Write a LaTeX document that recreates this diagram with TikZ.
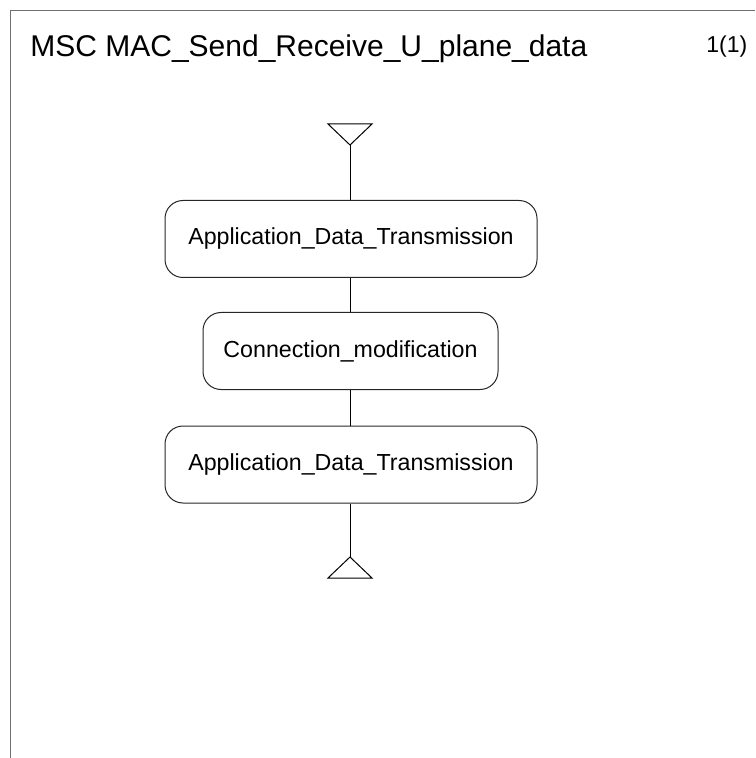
\documentclass[tikz,border=0pt]{standalone}
\usepackage{fontspec}
\setmainfont{Liberation Sans}
\definecolor{framegray}{HTML}{707070}

\tikzset{
  procref/.style={draw=black!85, line width=0.5pt, rounded corners=9pt, inner sep=0pt, minimum height=38.5pt, font=\fontsize{11.6}{13}\selectfont},
  lifeline/.style={draw=black, line width=0.5pt}
}

\begin{document}
\begin{tikzpicture}[x=0.5pt,y=-0.5pt]
    \useasboundingbox (0,0) rectangle (755,758);
    % frame
    \draw [framegray, line width=0.9pt] (755,10.5) -- (10.5,10.5) -- (10.5,758);
    \node[anchor=base west, inner sep=0pt, font=\fontsize{15}{18}\selectfont] (title) at (30,57) {MSC MAC\_Send\_Receive\_U\_plane\_data};
    \node[anchor=base west, inner sep=0pt, font=\fontsize{11.5}{14}\selectfont] (page) at (706,53) {1(1)};
    % instance start and end
    \draw [lifeline] (328,124) -- (372,124) -- (350,145) -- cycle;
    \coordinate (start) at (350,145);
    \draw [lifeline] (328,578) -- (372,578) -- (350,557) -- cycle;
    \coordinate (stop) at (350,557);
    % references
    \node[procref, minimum width=186pt] (adt1) at (351,239) {Application\_Data\_Transmission};
    \node[procref, minimum width=147.5pt] (conmod) at (350.5,351) {Connection\_modification};
    \node[procref, minimum width=186pt] (adt2) at (351,464.5) {Application\_Data\_Transmission};
    \draw [lifeline] (start) -- (start |- adt1.north);
    \draw [lifeline] (adt1.south -| start) -- (conmod.north -| start);
    \draw [lifeline] (conmod.south -| start) -- (adt2.north -| start);
    \draw [lifeline] (adt2.south -| start) -- (stop);
  \end{tikzpicture}
\end{document}
